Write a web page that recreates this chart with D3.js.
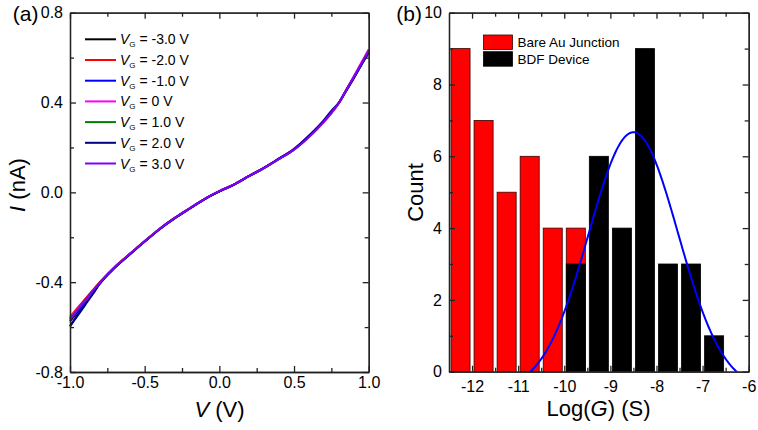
<!doctype html>
<html lang="en">
<head>
  <meta charset="utf-8">
  <title>I-V curves and conductance histogram</title>
  <script src="https://cdn.jsdelivr.net/npm/d3@7"></script>
  <style type="text/css">
    body {
      margin: 0;
      background-color: #ffffff;
    }
    svg text {
      font-family: Arial, "Liberation Sans", sans-serif;
      fill: #000000;
    }
    .axis path, .axis line {
      stroke: #222222;
      stroke-width: 1.3px;
    }
    .ivline {
      fill: none;
      stroke-width: 2px;
    }
  </style>
</head>
<body>
  <div id="container"></div>
<script type="text/javascript">

  // (a) I-V sweeps, one per gate voltage
  var voltage = [-1.0, -0.95, -0.9, -0.85, -0.8, -0.7, -0.6, -0.5, -0.4, -0.3, -0.2, -0.1, 0.0,
                 0.1, 0.2, 0.3, 0.4, 0.5, 0.6, 0.7, 0.75, 0.8, 0.85, 0.9, 0.95, 1.0];
  var gateLabels = ["-3.0", "-2.0", "-1.0", "0", "1.0", "2.0", "3.0"];
  var currentVgM3 = [-0.575, -0.532, -0.488, -0.445, -0.405, -0.334, -0.276, -0.219, -0.164, -0.116, -0.073, -0.031, 0.004,
                     0.035, 0.072, 0.108, 0.150, 0.193, 0.250, 0.318, 0.357, 0.398, 0.452, 0.507, 0.566, 0.622];
  var currentVgM2 = [-0.555, -0.515, -0.476, -0.437, -0.399, -0.331, -0.274, -0.217, -0.162, -0.114, -0.071, -0.030, 0.005,
                     0.036, 0.073, 0.109, 0.149, 0.190, 0.246, 0.314, 0.353, 0.397, 0.455, 0.512, 0.572, 0.632];
  var currentVgM1 = [-0.598, -0.545, -0.495, -0.450, -0.405, -0.335, -0.276, -0.219, -0.163, -0.115, -0.072, -0.031, 0.004,
                     0.036, 0.073, 0.109, 0.149, 0.191, 0.248, 0.316, 0.354, 0.398, 0.455, 0.511, 0.569, 0.626];
  var currentVg0  = [-0.560, -0.520, -0.484, -0.450, -0.404, -0.333, -0.275, -0.218, -0.163, -0.115, -0.072, -0.030, 0.005,
                     0.036, 0.073, 0.109, 0.150, 0.194, 0.246, 0.314, 0.352, 0.398, 0.458, 0.517, 0.577, 0.637];
  var currentVgP1 = [-0.566, -0.524, -0.482, -0.441, -0.402, -0.333, -0.275, -0.218, -0.163, -0.115, -0.072, -0.030, 0.005,
                     0.036, 0.073, 0.109, 0.149, 0.190, 0.247, 0.316, 0.355, 0.399, 0.456, 0.512, 0.571, 0.629];
  var currentVgP2 = [-0.595, -0.550, -0.503, -0.456, -0.407, -0.336, -0.277, -0.219, -0.164, -0.116, -0.073, -0.031, 0.004,
                     0.035, 0.073, 0.110, 0.151, 0.193, 0.253, 0.322, 0.363, 0.400, 0.455, 0.510, 0.568, 0.624];
  var currentVgP3 = [-0.567, -0.525, -0.482, -0.441, -0.402, -0.333, -0.275, -0.218, -0.163, -0.115, -0.072, -0.030, 0.005,
                     0.036, 0.073, 0.109, 0.149, 0.190, 0.247, 0.316, 0.355, 0.399, 0.456, 0.512, 0.571, 0.630];
  var ivTicksV = [-1.0, -0.5, 0.0, 0.5, 1.0];
  var ivTicksI = [-0.8, -0.4, 0.0, 0.4, 0.8];

  // (b) conductance histograms, bins are 0.5 decade wide
  var bareBins = [-12.5, -12.0, -11.5, -11.0, -10.5, -10.0];
  var bareCounts = [9, 7, 5, 6, 4, 4];
  var bdfBins = [-10.0, -9.5, -9.0, -8.5, -8.0, -7.5, -7.0];
  var bdfCounts = [3, 6, 4, 9, 3, 3, 1];
  var binWidth = 0.5;
  // Gaussian fit of the BDF device counts
  var fitCenter = -8.5, fitSigma = 0.97, fitAmp = 7.17, fitOffset = -0.5;
  var histTicksG = [-12, -11, -10, -9, -8, -7, -6];
  var histTicksCount = [0, 2, 4, 6, 8, 10];

  var ivCurves = [currentVgM3, currentVgM2, currentVgM1, currentVg0, currentVgP1, currentVgP2, currentVgP3];
  var ivColors = ["#000000", "#ff0000", "#0000ff", "#ff00ff", "#008000", "#000080", "#8000ff"];

  var width = 758, height = 430;

  var svg = d3.select("#container")
              .append("svg")
              .attr("width", width)
              .attr("height", height);

  // Draw a closed frame with inward ticks on all four sides
  function frame(x, y, xMajor, xMinor, yMajor, yMinor, xFmt, yFmt, xPad) {
    var x0 = x.range()[0], x1 = x.range()[1];
    var yb = y.range()[0], yt = y.range()[1];
    var fonts = function(g) {
      g.attr("class", "axis");
      g.selectAll("text").style("font-size", "16px");
    };
    svg.append("g").attr("transform", "translate(0," + yb + ")")
      .call(d3.axisBottom(x).tickValues(xMajor).tickSize(-6).tickSizeOuter(0).tickPadding(xPad).tickFormat(xFmt))
      .call(fonts);
    svg.append("g").attr("transform", "translate(0," + yb + ")")
      .call(d3.axisBottom(x).tickValues(xMinor).tickSize(-4).tickSizeOuter(0).tickFormat(""))
      .call(fonts);
    svg.append("g").attr("transform", "translate(0," + yt + ")")
      .call(d3.axisTop(x).tickValues(xMajor).tickSize(-6).tickSizeOuter(0).tickFormat(""))
      .call(fonts);
    svg.append("g").attr("transform", "translate(0," + yt + ")")
      .call(d3.axisTop(x).tickValues(xMinor).tickSize(-4).tickSizeOuter(0).tickFormat(""))
      .call(fonts);
    svg.append("g").attr("transform", "translate(" + x0 + ",0)")
      .call(d3.axisLeft(y).tickValues(yMajor).tickSize(-6).tickSizeOuter(0).tickPadding(7).tickFormat(yFmt))
      .call(fonts);
    svg.append("g").attr("transform", "translate(" + x0 + ",0)")
      .call(d3.axisLeft(y).tickValues(yMinor).tickSize(-4).tickSizeOuter(0).tickFormat(""))
      .call(fonts);
    svg.append("g").attr("transform", "translate(" + x1 + ",0)")
      .call(d3.axisRight(y).tickValues(yMajor).tickSize(-6).tickSizeOuter(0).tickFormat(""))
      .call(fonts);
    svg.append("g").attr("transform", "translate(" + x1 + ",0)")
      .call(d3.axisRight(y).tickValues(yMinor).tickSize(-4).tickSizeOuter(0).tickFormat(""))
      .call(fonts);
  }

  function midpoints(ticks) {
    var out = [];
    for (var i = 0; i < ticks.length - 1; i++) {
      out.push((ticks[i] + ticks[i + 1]) / 2);
    }
    return out;
  }

  // ---------------- panel (a) ----------------
  var xA = d3.scaleLinear().domain([-1.0, 1.0]).range([70, 368.7]);
  var yA = d3.scaleLinear().domain([-0.8, 0.8]).range([372, 12.7]);

  var ivLine = d3.line()
    .curve(d3.curveMonotoneX)
    .x(function(d, i) { return xA(voltage[i]); })
    .y(function(d) { return yA(d); });

  svg.selectAll(".ivline")
    .data(ivCurves)
    .enter()
    .append("path")
    .attr("class", "ivline")
    .attr("stroke", function(d, i) { return ivColors[i]; })
    .attr("d", ivLine);

  frame(xA, yA, ivTicksV, midpoints(ivTicksV), ivTicksI, midpoints(ivTicksI),
        function(d) { return d.toFixed(1); }, function(d) { return d.toFixed(1); }, 5);

  // legend (a)
  var legA = svg.append("g");
  gateLabels.forEach(function(lab, i) {
    var ly = 39.3 + i * 20.7;
    legA.append("line")
      .attr("x1", 85).attr("x2", 116)
      .attr("y1", ly).attr("y2", ly)
      .attr("stroke", ivColors[i])
      .attr("stroke-width", 2);
    var t = legA.append("text")
      .attr("x", 120)
      .attr("y", ly + 5)
      .style("font-size", "14px");
    t.append("tspan").attr("font-style", "italic").text("V");
    t.append("tspan").style("font-size", "8px").attr("dy", 3).text("G");
    t.append("tspan").attr("dy", -3).text(" = " + lab + " V");
  });

  // axis titles (a)
  var tA = svg.append("text")
    .attr("x", 219.5).attr("y", 416.5)
    .attr("text-anchor", "middle")
    .style("font-size", "22px");
  tA.append("tspan").attr("font-style", "italic").text("V");
  tA.append("tspan").text(" (V)");

  var tAy = svg.append("text")
    .attr("transform", "translate(25,185) rotate(-90)")
    .attr("text-anchor", "middle")
    .style("font-size", "22px");
  tAy.append("tspan").attr("font-style", "italic").text("I");
  tAy.append("tspan").text(" (nA)");

  svg.append("text")
    .attr("x", 38.5).attr("y", 20.7)
    .attr("text-anchor", "end")
    .style("font-size", "21px")
    .text("(a)");

  // ---------------- panel (b) ----------------
  var xB = d3.scaleLinear().domain([-12.5, -6]).range([449, 748.7]);
  var yB = d3.scaleLinear().domain([0, 10]).range([371.7, 12.7]);

  svg.selectAll(".bare")
    .data(bareBins)
    .enter()
    .append("rect")
    .attr("class", "bare")
    .attr("x", function(d) { return xB(d) + 2; })
    .attr("width", function(d) { return xB(d + binWidth) - xB(d) - 4; })
    .attr("y", function(d, i) { return yB(bareCounts[i]); })
    .attr("height", function(d, i) { return yB(0) - yB(bareCounts[i]); })
    .attr("fill", "#ff0000")
    .attr("stroke", "#3a0000")
    .attr("stroke-width", 0.8);

  svg.selectAll(".bdf")
    .data(bdfBins)
    .enter()
    .append("rect")
    .attr("class", "bdf")
    .attr("x", function(d) { return xB(d) + 2; })
    .attr("width", function(d) { return xB(d + binWidth) - xB(d) - 4; })
    .attr("y", function(d, i) { return yB(bdfCounts[i]); })
    .attr("height", function(d, i) { return yB(0) - yB(bdfCounts[i]); })
    .attr("fill", "#000000")
    .attr("stroke", "#000000")
    .attr("stroke-width", 0.8);

  // Gaussian fit curve, clipped to the plot box
  svg.append("clipPath").attr("id", "clipB")
    .append("rect")
    .attr("x", xB(-12.5)).attr("y", yB(10))
    .attr("width", xB(-6) - xB(-12.5))
    .attr("height", yB(0) - yB(10));

  var fitPts = d3.range(-12.5, -5.99, 0.02).map(function(g) {
    return [g, fitOffset + fitAmp * Math.exp(-(g - fitCenter) * (g - fitCenter) / (2 * fitSigma * fitSigma))];
  });
  svg.append("path")
    .datum(fitPts)
    .attr("clip-path", "url(#clipB)")
    .attr("fill", "none")
    .attr("stroke", "#0000ff")
    .attr("stroke-width", 2)
    .attr("d", d3.line()
      .x(function(d) { return xB(d[0]); })
      .y(function(d) { return yB(d[1]); }));

  frame(xB, yB, histTicksG, midpoints(histTicksG), histTicksCount, midpoints(histTicksCount),
        function(d) { return String(d); }, function(d) { return String(d); }, 9);

  // legend (b)
  var legB = [["Bare Au Junction", "#ff0000", "#3a0000"], ["BDF Device", "#000000", "#000000"]];
  legB.forEach(function(item, i) {
    svg.append("rect")
      .attr("x", 483.5).attr("y", 35 + i * 16.7)
      .attr("width", 29).attr("height", 14.5)
      .attr("fill", item[1])
      .attr("stroke", item[2])
      .attr("stroke-width", 0.8);
    svg.append("text")
      .attr("x", 517.5).attr("y", 47 + i * 16.7)
      .style("font-size", "13.5px")
      .text(item[0]);
  });

  // axis titles (b)
  var tB = svg.append("text")
    .attr("x", 598.5).attr("y", 416)
    .attr("text-anchor", "middle")
    .style("font-size", "22px");
  tB.append("tspan").text("Log(");
  tB.append("tspan").attr("font-style", "italic").text("G");
  tB.append("tspan").text(") (S)");

  svg.append("text")
    .attr("transform", "translate(423,192.5) rotate(-90)")
    .attr("text-anchor", "middle")
    .style("font-size", "22px")
    .text("Count");

  svg.append("text")
    .attr("x", 422).attr("y", 20.7)
    .attr("text-anchor", "end")
    .style("font-size", "21px")
    .text("(b)");

</script>
</body>
</html>
